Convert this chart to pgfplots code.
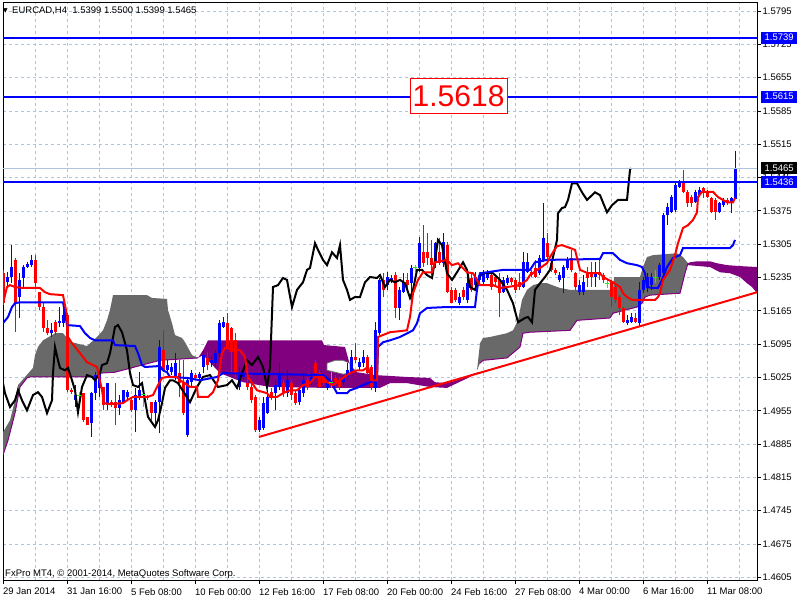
\documentclass[border=0pt]{standalone}
\usepackage{fontspec}
\setmainfont{Liberation Sans}
\newfontfamily\dejavu{DejaVu Sans}
\usepackage{pgfplots}
\pgfplotsset{compat=1.18}
\usepackage{pgfplotstable}

\definecolor{gridc}{RGB}{176,196,222}
\definecolor{cloudgray}{RGB}{105,105,105}
\definecolor{cloudpurple}{RGB}{128,0,128}
\definecolor{bidc}{RGB}{176,196,222}
\definecolor{dojic}{RGB}{0,255,0}

% bullish bars: bar open high low close
\pgfplotstableread{
x o h l c
1 1.5225 1.5246 1.5215 1.5236
2 1.5236 1.5303 1.5223 1.5257
4 1.5194 1.5244 1.5150 1.5230
5 1.5234 1.5261 1.5213 1.5257
6 1.5257 1.5267 1.5255 1.5263
7 1.5261 1.5282 1.5257 1.5272
12 1.5118 1.5139 1.5110 1.5125
14 1.5139 1.5173 1.5131 1.5143
15 1.5139 1.5181 1.5131 1.5156
18 1.4977 1.5009 1.4963 1.4988
22 1.4929 1.4994 1.4900 1.4992
23 1.4992 1.5036 1.4977 1.5030
24 1.5003 1.5036 1.4984 1.5034
26 1.4967 1.5013 1.4956 1.5013
29 1.4960 1.4988 1.4946 1.4977
30 1.4973 1.4998 1.4971 1.4998
31 1.4984 1.4998 1.4977 1.4994
33 1.4956 1.5003 1.4910 1.4988
34 1.4984 1.5036 1.4977 1.4998
38 1.4950 1.4977 1.4921 1.4973
39 1.4973 1.5103 1.4908 1.5089
41 1.5040 1.5061 1.5034 1.5051
42 1.5036 1.5055 1.5030 1.5047
43 1.5026 1.5076 1.5019 1.5055
46 1.4904 1.5026 1.4900 1.5019
47 1.5015 1.5040 1.5005 1.5034
49 1.5024 1.5036 1.5015 1.5032
50 1.5047 1.5082 1.5034 1.5072
52 1.5055 1.5068 1.5047 1.5061
53 1.5055 1.5082 1.5047 1.5076
54 1.5076 1.5145 1.5068 1.5139
55 1.5131 1.5152 1.5129 1.5141
59 1.5005 1.5047 1.4998 1.5034
60 1.5026 1.5040 1.5019 1.5034
64 1.4914 1.4942 1.4910 1.4935
65 1.4919 1.4984 1.4914 1.4971
66 1.4950 1.4998 1.4948 1.4984
68 1.4992 1.5019 1.4956 1.5009
69 1.5005 1.5055 1.4998 1.5034
71 1.4992 1.5040 1.4984 1.5019
74 1.4973 1.5005 1.4967 1.4998
75 1.4992 1.5034 1.4984 1.5019
77 1.5015 1.5034 1.5009 1.5026
81 1.5003 1.5019 1.4998 1.5013
85 1.5015 1.5030 1.5009 1.5026
86 1.5026 1.5055 1.5019 1.5040
87 1.5036 1.5082 1.5034 1.5068
89 1.5047 1.5066 1.5040 1.5057
90 1.5055 1.5082 1.5047 1.5068
93 1.5003 1.5141 1.4994 1.5125
94 1.5118 1.5234 1.5114 1.5230
96 1.5219 1.5246 1.5209 1.5236
97 1.5230 1.5240 1.5223 1.5234
99 1.5171 1.5215 1.5145 1.5209
100 1.5204 1.5244 1.5202 1.5225
102 1.5223 1.5261 1.5188 1.5255
104 1.5255 1.5320 1.5246 1.5307
108 1.5265 1.5309 1.5255 1.5307
110 1.5265 1.5328 1.5257 1.5309
114 1.5181 1.5202 1.5177 1.5194
116 1.5188 1.5251 1.5181 1.5223
118 1.5219 1.5246 1.5209 1.5236
119 1.5230 1.5244 1.5223 1.5240
120 1.5225 1.5251 1.5219 1.5244
121 1.5234 1.5251 1.5230 1.5244
125 1.5204 1.5236 1.5202 1.5230
126 1.5223 1.5240 1.5219 1.5234
130 1.5215 1.5288 1.5213 1.5267
131 1.5246 1.5286 1.5244 1.5267
134 1.5244 1.5282 1.5240 1.5276
135 1.5272 1.5391 1.5267 1.5318
139 1.5230 1.5246 1.5225 1.5240
140 1.5234 1.5261 1.5202 1.5257
141 1.5255 1.5278 1.5251 1.5272
144 1.5204 1.5230 1.5198 1.5219
145 1.5204 1.5240 1.5198 1.5225
148 1.5236 1.5267 1.5215 1.5246
156 1.5139 1.5156 1.5135 1.5145
157 1.5141 1.5160 1.5139 1.5152
159 1.5139 1.5225 1.5131 1.5209
160 1.5209 1.5236 1.5202 1.5230
161 1.5215 1.5244 1.5204 1.5236
162 1.5219 1.5244 1.5209 1.5236
164 1.5236 1.5265 1.5230 1.5261
165 1.5244 1.5370 1.5236 1.5366
166 1.5366 1.5391 1.5345 1.5383
167 1.5372 1.5408 1.5370 1.5404
168 1.5377 1.5433 1.5372 1.5429
169 1.5425 1.5440 1.5423 1.5435
173 1.5393 1.5419 1.5391 1.5414
174 1.5408 1.5425 1.5404 1.5419
179 1.5372 1.5393 1.5370 1.5391
180 1.5387 1.5402 1.5383 1.5398
182 1.5393 1.5404 1.5370 1.5402
183 1.5399 1.5500 1.5399 1.5465
}\upbars

% bearish bars
\pgfplotstableread{
x o h l c
0 1.5244 1.5251 1.5177 1.5181
3 1.5272 1.5276 1.5120 1.5181
8 1.5272 1.5282 1.5215 1.5223
9 1.5204 1.5204 1.5167 1.5173
10 1.5173 1.5181 1.5120 1.5129
11 1.5129 1.5145 1.5114 1.5118
13 1.5141 1.5145 1.5114 1.5120
16 1.5156 1.5160 1.4994 1.4998
17 1.4998 1.5003 1.4990 1.4994
20 1.4992 1.4992 1.4931 1.4935
21 1.4942 1.4942 1.4925 1.4925
25 1.5005 1.5005 1.4956 1.4967
27 1.4973 1.4977 1.4963 1.4967
28 1.4973 1.5013 1.4925 1.4960
32 1.4977 1.4984 1.4952 1.4956
36 1.4984 1.4988 1.4977 1.4982
37 1.4973 1.4973 1.4935 1.4950
40 1.5082 1.5125 1.5036 1.5040
44 1.5034 1.5061 1.4984 1.5013
45 1.5013 1.5061 1.4946 1.4950
48 1.5030 1.5034 1.5019 1.5024
51 1.5066 1.5078 1.5040 1.5051
56 1.5139 1.5160 1.5082 1.5089
57 1.5129 1.5131 1.5034 1.5078
58 1.5103 1.5118 1.5026 1.5034
61 1.5013 1.5026 1.4998 1.5005
62 1.5005 1.5013 1.4971 1.4977
63 1.4984 1.4988 1.4910 1.4914
67 1.4994 1.5003 1.4977 1.4984
70 1.5013 1.5019 1.4984 1.4992
72 1.5013 1.5019 1.4977 1.4988
73 1.4992 1.4998 1.4967 1.4971
76 1.5019 1.5026 1.4998 1.5005
78 1.5055 1.5061 1.5030 1.5034
79 1.5034 1.5040 1.5003 1.5005
80 1.5026 1.5030 1.5009 1.5013
83 1.5024 1.5030 1.5009 1.5015
84 1.5019 1.5026 1.4998 1.5005
88 1.5068 1.5097 1.5055 1.5061
91 1.5068 1.5072 1.5030 1.5034
92 1.5047 1.5051 1.4998 1.5005
95 1.5230 1.5244 1.5194 1.5209
98 1.5240 1.5246 1.5150 1.5171
101 1.5230 1.5244 1.5209 1.5219
105 1.5288 1.5345 1.5257 1.5265
106 1.5288 1.5328 1.5261 1.5276
107 1.5276 1.5314 1.5240 1.5261
109 1.5288 1.5318 1.5261 1.5265
111 1.5303 1.5309 1.5202 1.5204
112 1.5209 1.5215 1.5181 1.5181
113 1.5209 1.5213 1.5183 1.5188
115 1.5209 1.5215 1.5188 1.5194
117 1.5234 1.5246 1.5204 1.5209
122 1.5240 1.5244 1.5209 1.5215
123 1.5236 1.5240 1.5219 1.5225
124 1.5230 1.5244 1.5152 1.5202
127 1.5234 1.5236 1.5219 1.5225
128 1.5230 1.5234 1.5202 1.5209
129 1.5225 1.5244 1.5209 1.5215
132 1.5246 1.5251 1.5236 1.5240
133 1.5255 1.5272 1.5234 1.5236
136 1.5307 1.5328 1.5272 1.5278
137 1.5265 1.5272 1.5246 1.5251
138 1.5251 1.5255 1.5240 1.5244
142 1.5276 1.5292 1.5246 1.5251
143 1.5244 1.5246 1.5209 1.5215
146 1.5244 1.5257 1.5215 1.5234
147 1.5246 1.5267 1.5215 1.5236
149 1.5246 1.5272 1.5230 1.5240
150 1.5240 1.5244 1.5223 1.5230
152 1.5225 1.5230 1.5173 1.5194
153 1.5215 1.5223 1.5181 1.5188
154 1.5194 1.5198 1.5156 1.5171
155 1.5171 1.5173 1.5139 1.5141
158 1.5150 1.5160 1.5139 1.5141
170 1.5435 1.5461 1.5412 1.5414
171 1.5414 1.5419 1.5383 1.5391
172 1.5404 1.5408 1.5383 1.5391
175 1.5423 1.5425 1.5402 1.5412
176 1.5414 1.5419 1.5402 1.5404
177 1.5402 1.5404 1.5370 1.5372
178 1.5398 1.5402 1.5356 1.5372
181 1.5398 1.5402 1.5387 1.5391
}\downbars

% doji bars
\pgfplotstableread{
x o h l c
19 1.4988 1.4994 1.4977 1.4988
35 1.4990 1.4998 1.4963 1.4990
82 1.5015 1.5036 1.5003 1.5015
103 1.5255 1.5261 1.5246 1.5255
151 1.5223 1.5234 1.5213 1.5223
163 1.5236 1.5251 1.5223 1.5236
}\dojibars

\pgfplotsset{
  candle/.style 2 args={draw=none, mark=none, forget plot,
    error bars/.cd, y dir=plus, y explicit, error mark=none,
    error bar style={draw=#1, line width=#2}},
}

\begin{document}
\begin{tikzpicture}
\useasboundingbox (-3pt,-20pt) rectangle (797pt,580pt);
\begin{axis}[
  at={(0pt,0pt)}, anchor=south west,
  width=754pt, height=577pt, scale only axis,
  xmin=0, xmax=188.5, ymin=1.45994, ymax=1.58118,
  axis line style={black, line width=1pt},
  tick align=outside, major tick length=4pt, minor tick length=0pt,
  xtick pos=bottom, ytick pos=right, yticklabel pos=right,
  xtick={0,16,...,176},
  xticklabels={29 Jan 2014,31 Jan 16:00,5 Feb 08:00,10 Feb 00:00,12 Feb 16:00,17 Feb 08:00,20 Feb 00:00,24 Feb 16:00,27 Feb 08:00,4 Mar 00:00,6 Mar 16:00,11 Mar 08:00},
  minor xtick={8,24,...,184},
  ytick={1.4605,1.4675,1.4745,1.4815,1.4885,1.4955,1.5025,1.5095,1.5165,1.5235,1.5305,1.5375,1.5445,1.5515,1.5585,1.5655,1.5725,1.5795},
  scaled y ticks=false,
  /pgf/number format/fixed, /pgf/number format/fixed zerofill,
  /pgf/number format/precision=4, /pgf/number format/assume math mode=true,
  xticklabel style={anchor=north west, inner sep=0pt, yshift=-4pt},
  yticklabel style={anchor=west, inner sep=0pt, xshift=1.5pt},
  tick label style={font=\fontsize{9.5}{10}\selectfont},
  tick style={black, line width=0.8pt},
  grid=both,
  major grid style={gridc, dash pattern=on 3pt off 3pt, line width=0.7pt},
  minor grid style={gridc, dash pattern=on 3pt off 3pt, line width=0.7pt},
]

% ---- cloud ----
\addplot[fill=cloudgray, draw=none] coordinates {
(0,1.4910)(1.75,1.4935)(3,1.4977)(3.75,1.5009)(5.5,1.5026)(7.5,1.5045)(8,1.5072)(8.75,1.5089)(10,1.5103)(12.25,1.5114)(13,1.5118)(15,1.5118)(16,1.5108)(17.25,1.5099)(21,1.5091)(23.5,1.5110)(25,1.5124)(26,1.5145)(26.75,1.5167)(27.5,1.5198)(36,1.5198)(37.25,1.5192)(41,1.5190)(41.25,1.5167)(42.25,1.5139)(43,1.5114)(44.75,1.5108)(45.5,1.5099)(47.25,1.5072)(48.75,1.5066)
(39.25,1.5061)(28,1.5036)(24.25,1.5034)(23,1.5026)(6.75,1.5026)(6,1.5024)(4.25,1.5005)(3,1.4950)(1.25,1.4893)(0,1.4862)} -- cycle;
\addplot[fill=cloudpurple, draw=none] coordinates {
(48.75,1.5066)(50,1.5082)(51.25,1.5103)(79.75,1.5103)(80.25,1.5093)(85.5,1.5089)(86.75,1.5051)(88.5,1.5036)(93,1.5030)(101,1.5026)(106.75,1.5024)(108,1.5015)(111,1.5013)(113.5,1.5019)(116.75,1.5030)(118.75,1.5036)
(116.75,1.5026)(111,1.5003)(106.75,1.5005)(101,1.5013)(96.75,1.5013)(94.25,1.5003)(86.75,1.5003)(81,1.5003)(66.75,1.5005)(60,1.5015)(54.25,1.5034)(51.25,1.5061)(50,1.5072)} -- cycle;
\addplot[fill=white, draw=cloudgray, line width=0.8pt] coordinates {
(81,1.5055)(83,1.5061)(85,1.5061)(86.75,1.5055)(86.75,1.5034)(85,1.5032)(81,1.5040)} -- cycle;
\addplot[fill=cloudgray, draw=none] coordinates {
(118.5,1.5040)(119.25,1.5097)(120,1.5108)(121.75,1.5110)(126,1.5118)(127.5,1.5124)(128.75,1.5145)(129.75,1.5188)(131,1.5209)(132.5,1.5219)(134.25,1.5223)(136,1.5223)(139.25,1.5213)(141.75,1.5209)(152.5,1.5209)(152.75,1.5236)(159.25,1.5236)(160,1.5257)(161,1.5278)(162.5,1.5282)(168.5,1.5286)(170,1.5278)(171.25,1.5265)
(170.5,1.5244)(169.25,1.5202)(161.75,1.5198)(160.5,1.5194)(159.75,1.5181)(158.5,1.5173)(152.5,1.5160)(151.75,1.5150)(143.5,1.5145)(141.75,1.5124)(131.75,1.5120)(130,1.5118)(129.25,1.5089)(126,1.5066)(120,1.5061)(119.25,1.5055)} -- cycle;
\addplot[fill=cloudpurple, draw=none] coordinates {
(171.25,1.5265)(171.75,1.5267)(173.5,1.5269)(176.75,1.5269)(178.5,1.5265)(181,1.5261)(184.25,1.5259)(188.5,1.5257)
(188.5,1.5202)(187.25,1.5215)(186,1.5223)(184.25,1.5236)(181.75,1.5244)(179.25,1.5246)(176.75,1.5257)(171.25,1.5261)} -- cycle;
\addplot[cloudpurple, line width=1pt] coordinates {
(0,1.4862)(1.25,1.4893)(3,1.4950)(4.25,1.5005)(6,1.5024)(6.75,1.5026)(23,1.5026)(24.25,1.5034)(28,1.5036)(39.25,1.5061)(48.75,1.5066)};
\addplot[cloudpurple, line width=1pt] coordinates {
(119.25,1.5055)(120,1.5061)(126,1.5066)(129.25,1.5089)(130,1.5118)(131.75,1.5120)(141.75,1.5124)(143.5,1.5145)(151.75,1.5150)(152.5,1.5160)(158.5,1.5173)(159.75,1.5181)(160.5,1.5194)(161.75,1.5198)(169.25,1.5202)(170.5,1.5244)(171.25,1.5265)};

% ---- candles: wicks (low to high), bodies (open/close) ----
\addplot[candle={blue}{1pt}] table[x=x, y=l, y error expr=\thisrow{h}-\thisrow{l}] {\upbars};
\addplot[candle={blue}{3pt}] table[x=x, y=o, y error expr=\thisrow{c}-\thisrow{o}] {\upbars};
\addplot[candle={red}{1pt}] table[x=x, y=l, y error expr=\thisrow{h}-\thisrow{l}] {\downbars};
\addplot[candle={red}{3pt}] table[x=x, y=c, y error expr=\thisrow{o}-\thisrow{c}] {\downbars};
\addplot[candle={dojic}{1pt}] table[x=x, y=l, y error expr=\thisrow{h}-\thisrow{l}] {\dojibars};
\addplot[only marks, mark=-, mark size=2pt, mark options={draw=dojic, line width=1pt}]
  table[x=x, y=c] {\dojibars};

% ---- Chikou span ----
\addplot[black, line width=2pt] coordinates {
(0,1.5013)(0.5,1.4992)(1.75,1.4963)(3,1.4977)(3.75,1.4998)(4.75,1.4977)(6,1.4956)(7.5,1.4988)(8.75,1.4994)(9.75,1.4984)(11,1.4950)(12.25,1.4977)(12.5,1.5034)(13,1.5089)(13.75,1.5061)(14.25,1.5045)(15.5,1.5040)(16.25,1.5045)(17.25,1.5019)(18,1.4998)(18.75,1.4952)(19.75,1.5005)(21,1.5030)(22.25,1.5026)(23,1.5019)(24.25,1.5034)(24.75,1.5051)(26,1.5055)(26.75,1.5076)(28,1.5131)(28.75,1.5135)(29.75,1.5120)(31,1.5082)(31.75,1.5034)(32.5,1.5009)(33.75,1.5005)(34.75,1.5013)(35.5,1.4977)(36.25,1.4942)(38,1.4921)(38.75,1.4935)(39.75,1.4971)(40.5,1.5003)(41.75,1.5019)(42.5,1.5019)(43.75,1.5013)(45.5,1.4990)(46.75,1.4973)(48.5,1.5005)(50,1.5026)(51.75,1.5030)(53.75,1.5005)(56,1.5009)(57.25,1.5019)(58.5,1.5003)(59.75,1.5034)(61,1.5061)(62.25,1.5051)(63.75,1.5068)(65,1.5047)(66,1.5005)(66.75,1.5047)(67.5,1.5215)(68.75,1.5219)(70,1.5234)(71,1.5230)(72.25,1.5173)(73.5,1.5209)(75,1.5225)(76,1.5251)(76.75,1.5255)(78,1.5307)(78.75,1.5293)(80,1.5272)(81,1.5261)(82.25,1.5288)(83.5,1.5276)(84.25,1.5303)(85,1.5230)(86,1.5209)(86.75,1.5188)(88,1.5194)(89.25,1.5194)(90.5,1.5225)(91.75,1.5236)(93.5,1.5234)(94.25,1.5240)(95.5,1.5215)(96.75,1.5230)(98,1.5225)(99.25,1.5230)(100.5,1.5223)(101.75,1.5192)(102.5,1.5209)(103.5,1.5251)(104.75,1.5251)(106,1.5240)(107.25,1.5234)(108,1.5272)(108.75,1.5314)(109.75,1.5303)(111,1.5244)(112.25,1.5230)(113.5,1.5246)(115,1.5267)(116,1.5251)(116.75,1.5215)(118,1.5209)(118.75,1.5230)(119.75,1.5244)(122.5,1.5244)(124.25,1.5230)(126,1.5209)(127.5,1.5181)(128.75,1.5141)(130.5,1.5150)(131.25,1.5152)(132.25,1.5141)(133,1.5209)(134.25,1.5223)(135.5,1.5236)(136.75,1.5251)(137.5,1.5278)(138.5,1.5314)(138.75,1.5370)(139.75,1.5381)(140.5,1.5383)(141.25,1.5398)(142.25,1.5433)(143.5,1.5433)(144.75,1.5414)(146,1.5398)(148,1.5414)(149.25,1.5408)(151,1.5372)(152.25,1.5387)(153.75,1.5398)(156,1.5398)(156.75,1.5461)(157,1.5465)};

% ---- Kijun-sen ----
\addplot[blue, line width=2pt] coordinates {
(0,1.5139)(1.25,1.5152)(2.25,1.5173)(3,1.5181)(4.25,1.5183)(15,1.5183)(15.5,1.5160)(16,1.5135)(19.25,1.5133)(20.5,1.5118)(21.75,1.5108)(23,1.5103)(27.5,1.5103)(28,1.5093)(33,1.5091)(33.75,1.5076)(34.75,1.5051)(35.5,1.5047)(39.25,1.5049)(40,1.5040)(41,1.5036)(41.75,1.5026)(46,1.5024)(49.25,1.5019)(53.5,1.5026)(55,1.5034)(80,1.5030)(81.75,1.5019)(83.5,1.4992)(86,1.4992)(86.75,1.4998)(88.5,1.5003)(90,1.5009)(91.75,1.5015)(93.5,1.5019)(93.75,1.5089)(95,1.5099)(96.75,1.5103)(99.25,1.5110)(102.5,1.5124)(103.5,1.5139)(104.25,1.5160)(106,1.5171)(111,1.5173)(118,1.5173)(118.5,1.5209)(119.25,1.5244)(121,1.5246)(125,1.5251)(130,1.5251)(131.75,1.5251)(133,1.5267)(136,1.5272)(149.25,1.5274)(150,1.5286)(152.5,1.5286)(154.25,1.5272)(156,1.5265)(158.5,1.5261)(159.75,1.5257)(160.5,1.5244)(161,1.5215)(162.5,1.5213)(163.75,1.5213)(164.75,1.5230)(166,1.5257)(167.5,1.5276)(169.25,1.5282)(170,1.5297)(181.75,1.5297)(182.5,1.5303)(183,1.5314)};

% ---- Tenkan-sen ----
\addplot[red, line width=2pt] coordinates {
(0,1.5181)(1,1.5215)(1.75,1.5219)(3,1.5215)(5,1.5213)(9.25,1.5213)(10.5,1.5204)(11.75,1.5200)(15,1.5198)(16,1.5156)(16.25,1.5110)(17.25,1.5097)(19.25,1.5076)(21,1.5057)(22.5,1.5051)(23.5,1.5047)(24.75,1.4998)(25.25,1.4971)(26.75,1.4969)(30,1.4971)(31,1.4977)(32.5,1.4984)(36,1.4984)(37.5,1.4988)(38.5,1.5005)(39.75,1.5024)(41,1.5026)(43.5,1.5026)(44.25,1.5019)(45.5,1.5013)(46.75,1.5005)(48.5,1.5005)(48.75,1.4984)(51.25,1.4984)(52.5,1.4994)(53.75,1.5019)(54.75,1.5076)(55.5,1.5087)(59.25,1.5082)(60.5,1.5068)(61.25,1.5026)(63.5,1.4998)(66,1.4992)(66.75,1.4984)(68.5,1.4984)(70,1.4992)(71.75,1.4998)(73.5,1.4998)(75,1.5009)(76.75,1.5013)(78,1.5026)(80,1.5026)(81,1.5015)(82.5,1.5009)(85,1.5024)(86.75,1.5034)(88.5,1.5040)(90,1.5040)(91.25,1.5047)(92.25,1.5019)(93.5,1.5019)(93.75,1.5110)(96.75,1.5120)(101,1.5124)(101.75,1.5152)(102.5,1.5202)(103.75,1.5230)(105,1.5246)(107.25,1.5246)(108,1.5267)(111,1.5272)(112.25,1.5261)(113.75,1.5265)(116,1.5246)(117.5,1.5244)(119.25,1.5219)(122.5,1.5219)(124.25,1.5213)(126,1.5215)(129.25,1.5219)(131,1.5230)(131.75,1.5240)(134.25,1.5255)(136,1.5265)(136.75,1.5278)(137.5,1.5288)(138.5,1.5301)(139.75,1.5303)(141.75,1.5297)(143,1.5293)(144.25,1.5251)(146.25,1.5244)(149.25,1.5244)(150,1.5236)(152.5,1.5225)(154.25,1.5215)(155,1.5202)(156,1.5194)(157.25,1.5188)(163,1.5188)(163.75,1.5194)(164.25,1.5202)(165,1.5230)(166.75,1.5251)(168,1.5282)(168.75,1.5307)(170,1.5339)(171.25,1.5345)(172.5,1.5356)(173.5,1.5372)(173.75,1.5404)(174.75,1.5415)(177.5,1.5415)(178.75,1.5404)(180,1.5398)(181,1.5393)(182.5,1.5393)(183,1.5402)};

% ---- objects ----
\addplot[bidc, line width=1pt] coordinates {(0,1.5465)(188.5,1.5465)};
\addplot[blue, line width=2pt] coordinates {(0,1.5739)(188.5,1.5739)};
\addplot[blue, line width=2pt] coordinates {(0,1.5615)(188.5,1.5615)};
\addplot[blue, line width=2pt] coordinates {(0,1.5436)(188.5,1.5436)};
\addplot[red, line width=2pt] coordinates {(64,1.4900)(188.5,1.5204)};

\node[draw=red, fill=white, text=red, line width=0.8pt, inner sep=0pt,
  minimum width=97pt, minimum height=35pt, font=\fontsize{30}{30}\selectfont]
  at (axis cs:113.9,1.5617) {1.5618};

\coordinate (p1) at (axis cs:188.5,1.5739);
\coordinate (p2) at (axis cs:188.5,1.5615);
\coordinate (p3) at (axis cs:188.5,1.5465);
\coordinate (p4) at (axis cs:188.5,1.5436);
\end{axis}

\tikzset{pbox/.style={anchor=west, inner sep=0pt, minimum width=36pt, minimum height=12pt,
  text=white, font=\fontsize{9.5}{10}\selectfont}}
\node[pbox, fill=blue] at ([xshift=4pt]p1) {1.5739};
\node[pbox, fill=blue] at ([xshift=4pt]p2) {1.5615};
\node[pbox, fill=black] at ([xshift=4pt]p3) {1.5465};
\node[pbox, fill=blue] at ([xshift=4pt]p4) {1.5436};

\node[anchor=base west, inner sep=0pt, font=\fontsize{6}{6}\dejavu] at (0pt,567pt) {▼};
\node[anchor=base west, inner sep=0pt, font=\fontsize{9.5}{10}\selectfont] at (9pt,566pt)
  {EURCAD,H4\ \ 1.5399 1.5500 1.5399 1.5465};
\node[anchor=base west, inner sep=0pt, font=\fontsize{9.5}{10}\selectfont] at (2pt,4pt)
  {FxPro MT4, © 2001-2014, MetaQuotes Software Corp.};
\end{tikzpicture}
\end{document}
